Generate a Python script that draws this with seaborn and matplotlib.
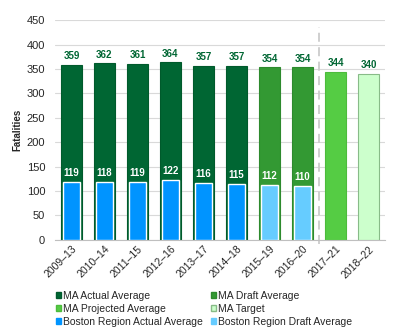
import matplotlib
matplotlib.use("Agg")
import matplotlib.pyplot as plt
import seaborn as sns
import pandas as pd
from matplotlib.patches import Patch

periods = ["2009–13", "2010–14", "2011–15", "2012–16", "2013–17",
           "2014–18", "2015–19", "2016–20", "2017–21", "2018–22"]
ma_values = [359, 362, 361, 364, 357, 357, 354, 354, 344, 340]
ma_types = ["MA Actual Average"] * 6 + ["MA Draft Average"] * 2 + ["MA Projected Average", "MA Target"]
boston_periods = periods[:8]
boston_values = [119, 118, 119, 122, 116, 115, 112, 110]
boston_types = ["Boston Region Actual Average"] * 6 + ["Boston Region Draft Average"] * 2

colors = {
    "MA Actual Average": "#006633",
    "MA Draft Average": "#339933",
    "MA Projected Average": "#55cc44",
    "MA Target": "#ccffcc",
    "Boston Region Actual Average": "#0094ff",
    "Boston Region Draft Average": "#66ccff",
}
edges = {
    "MA Actual Average": "#005a2c",
    "MA Draft Average": "#2d8a2d",
    "MA Projected Average": "#4cbb3c",
    "MA Target": "#88bb88",
}

sns.set_style("white")
plt.rcParams['font.family'] = ['Liberation Sans', 'DejaVu Sans']

ma_df = pd.DataFrame({"period": periods, "value": ma_values, "type": ma_types})
bos_df = pd.DataFrame({"period": boston_periods, "value": boston_values, "type": boston_types})

fig = plt.figure(figsize=(4.04, 3.35), dpi=100)
ax = fig.add_axes([0.136, 0.284, 0.817, 0.656])

sns.barplot(data=ma_df, x="period", y="value", hue="type", palette=colors,
            order=periods, dodge=False, width=0.66, ax=ax, legend=False, zorder=2,
            saturation=1)
for patch, t in zip(ax.patches, ma_types):
    patch.set_edgecolor(edges[t])
    patch.set_linewidth(0.8)
sns.barplot(data=bos_df, x="period", y="value", hue="type", palette=colors,
            order=periods, dodge=False, width=0.54, ax=ax, legend=False, zorder=3,
            edgecolor="white", linewidth=1.0, saturation=1)

for i, v in enumerate(ma_values):
    ax.text(i, v + 7, str(v), ha="center", va="bottom", fontsize=7,
            fontweight="bold", color="#006633")
for i, v in enumerate(boston_values):
    ax.text(i, v + 8, str(v), ha="center", va="bottom", fontsize=7,
            fontweight="bold", color="white", zorder=5)

ax.set_ylim(0, 450)
ax.set_xlim(-0.5, 9.5)
ax.set_yticks(range(0, 451, 50))
ax.tick_params(axis="y", labelsize=8, length=0, pad=7)
ax.yaxis.grid(True, color="#d9d9d9", linewidth=0.8, zorder=0)
ax.set_axisbelow(True)
ax.set_ylabel("Fatalities", fontsize=7, fontweight="bold", labelpad=3)
ax.set_xlabel("")
ax.set_xticks(range(len(periods)))
ax.set_xticklabels(periods, rotation=45, ha="right", rotation_mode="anchor", fontsize=7.5)
ax.tick_params(axis="x", length=0, pad=3)
ax.set_xticks([i - 0.5 for i in range(11)], minor=True)
ax.tick_params(axis="x", which="minor", length=4, color="#bfbfbf")
for s in ["top", "right", "left"]:
    ax.spines[s].set_visible(False)
ax.spines["bottom"].set_color("#bfbfbf")

ax.axvline(7.5, ymin=-0.02, ymax=0.97, color="#cccccc", linestyle=(0, (5, 3)),
           linewidth=1.3, clip_on=False, zorder=1)

order = ["MA Actual Average", "MA Projected Average", "Boston Region Actual Average",
         "MA Draft Average", "MA Target", "Boston Region Draft Average"]
handles = [Patch(facecolor=colors[n], edgecolor=edges.get(n, colors[n]), label=n) for n in order]
fig.legend(handles=handles, loc="lower center", bbox_to_anchor=(0.505, 0.012), ncol=2,
           fontsize=7.5, frameon=False, handlelength=0.5, handleheight=0.5,
           handletextpad=0.2, columnspacing=0.8, labelspacing=0.28,
           borderaxespad=0)

fig.savefig("out.png", dpi=100)
